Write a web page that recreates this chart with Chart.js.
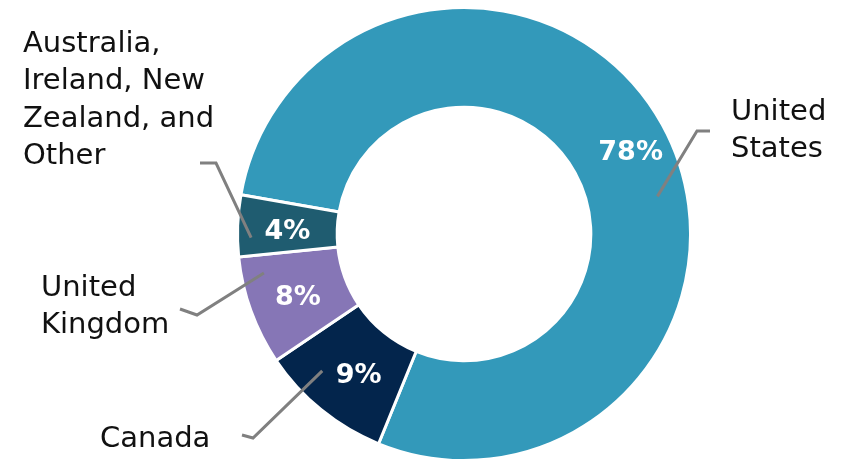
<!DOCTYPE html>
<html>
<head>
<meta charset="utf-8">
<script src="https://cdn.jsdelivr.net/npm/chart.js@4"></script>
<style>
  html, body { margin: 0; padding: 0; background: #fff; }
  #wrap { width: 844px; height: 462px; }
</style>
</head>
<body>
<div id="wrap"><canvas id="chart"></canvas></div>
<script>
// slices, clockwise from the start angle
const categories = ['United States', 'Canada', 'United Kingdom', 'Australia, Ireland, New Zealand, and Other'];
const shares = [78.3, 9.4, 7.8, 4.4];
const shareLabels = ['78%', '9%', '8%', '4%'];
const colors = ['#3399BA', '#03254C', '#8676B6', '#1F5C70'];

// outside label layout (text lines, where the text sits, leader line, nudge of the % text)
const LABELS = [
  { lines: ['United', 'States'], x: 731, y: 112, start: [79, 0.87], elbow: [697, 131], end: [710, 131], nudge: [12, 4] },
  { lines: ['Canada'], x: 100, y: 439, start: [226, 0.87], elbow: [253, 438], end: [242, 435], nudge: [6, 5] },
  { lines: ['United', 'Kingdom'], x: 41, y: 288, start: [259, 0.9], elbow: [197, 315], end: [180, 309], nudge: [0, 4] },
  { lines: ['Australia,', 'Ireland, New', 'Zealand, and', 'Other'], x: 23, y: 44, start: [269, 0.94], elbow: [216, 163], end: [200, 163], nudge: [0, 4] }
];
const FONT = '"DejaVu Sans", sans-serif';

const labelPlugin = {
  id: 'labels',
  afterDatasetsDraw(chart) {
    const ctx = chart.ctx;
    const meta = chart.getDatasetMeta(0);
    ctx.save();
    meta.data.forEach((arc, i) => {
      const L = LABELS[i];

      // percent inside the ring
      const p = arc.tooltipPosition();
      ctx.fillStyle = '#fff';
      ctx.font = 'bold 27px ' + FONT;
      ctx.textAlign = 'center';
      ctx.textBaseline = 'middle';
      ctx.fillText(shareLabels[i], p.x + L.nudge[0], p.y + L.nudge[1]);

      // leader line
      const a = (L.start[0] - 90) * Math.PI / 180;
      const r = arc.outerRadius * L.start[1];
      ctx.strokeStyle = '#808080';
      ctx.lineWidth = 3;
      ctx.beginPath();
      ctx.moveTo(arc.x + r * Math.cos(a), arc.y + r * Math.sin(a));
      ctx.lineTo(L.elbow[0], L.elbow[1]);
      ctx.lineTo(L.end[0], L.end[1]);
      ctx.stroke();

      // category text
      ctx.fillStyle = '#111';
      ctx.font = '29px ' + FONT;
      ctx.textAlign = 'left';
      L.lines.forEach((t, k) => ctx.fillText(t, L.x, L.y + k * 37.5));
    });
    ctx.restore();
  }
};

new Chart(document.getElementById('chart'), {
  type: 'doughnut',
  data: {
    labels: categories,
    datasets: [{
      data: shares,
      backgroundColor: colors,
      borderColor: '#fff',
      borderWidth: 3
    }]
  },
  options: {
    responsive: true,
    maintainAspectRatio: false,
    animation: false,
    rotation: -80,
    cutout: '56%',
    layout: { padding: { top: 6, bottom: 0, left: 84, right: 0 } },
    plugins: {
      legend: { display: false },
      tooltip: { enabled: false }
    }
  },
  plugins: [labelPlugin]
});
</script>
</body>
</html>
